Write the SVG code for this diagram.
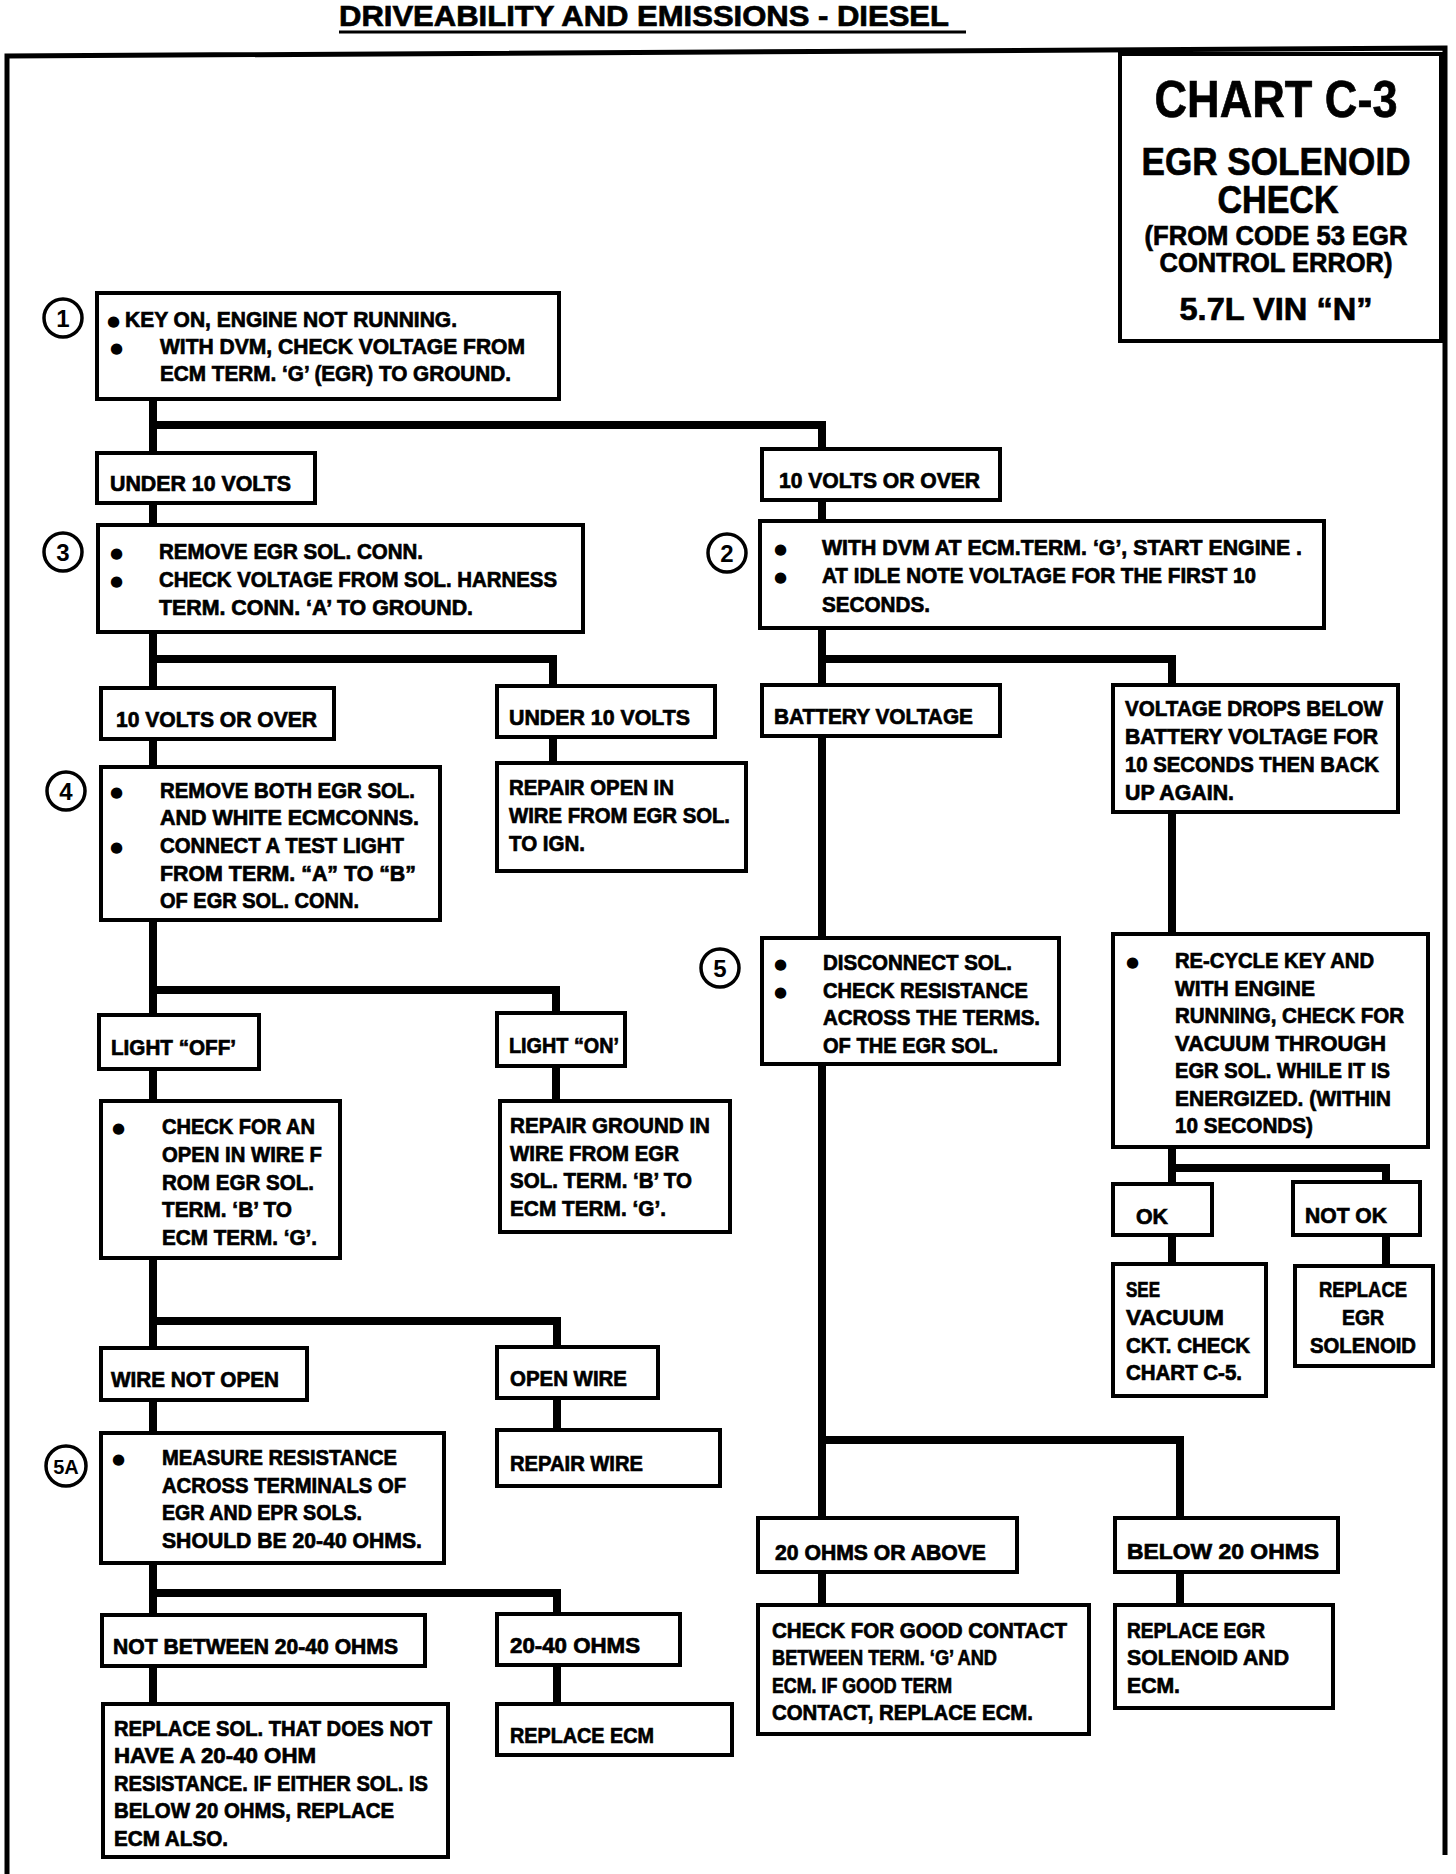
<svg xmlns="http://www.w3.org/2000/svg" width="1456" height="1874" viewBox="0 0 1456 1874">
<style>
.t{font-family:"Liberation Sans Narrow","Liberation Sans",Arial,sans-serif;font-weight:bold;font-size:22px;fill:#000;stroke:#000;stroke-width:0.7}
.box{fill:#fff;stroke:#000;stroke-width:4}
.conn{fill:none;stroke:#000;stroke-width:8;stroke-linejoin:miter}
.circ{fill:#fff;stroke:#000;stroke-width:3.5}
.num{font-family:"Liberation Sans",Arial,sans-serif;font-weight:bold;font-size:24px;text-anchor:middle}
.b{font-family:"DejaVu Sans",sans-serif;font-size:15px}
</style>
<rect width="1456" height="1874" fill="#fff"/>
<text class="t" x="339" y="26" style="font-size:30px" textLength="610" lengthAdjust="spacingAndGlyphs">DRIVEABILITY AND EMISSIONS - DIESEL</text>
<line x1="339" y1="32" x2="966" y2="32" stroke="#000" stroke-width="3"/>
<path d="M7,1874 V56 L1445,48 V1855" fill="none" stroke="#000" stroke-width="5"/>

<g id="connectors">
<path class="conn" d="M153,399 V1704"/>
<path class="conn" d="M153,425 H822 V449"/>
<path class="conn" d="M822,500 V521"/>
<path class="conn" d="M153,659 H553 V686"/>
<path class="conn" d="M553,737 V763"/>
<path class="conn" d="M153,990 H556 V1013"/>
<path class="conn" d="M556,1066 V1101"/>
<path class="conn" d="M153,1321 H557 V1347"/>
<path class="conn" d="M557,1398 V1430"/>
<path class="conn" d="M153,1593 H557 V1614"/>
<path class="conn" d="M557,1665 V1704"/>
<path class="conn" d="M822,628 V1518"/>
<path class="conn" d="M822,659 H1172 V685"/>
<path class="conn" d="M1172,812 V934"/>
<path class="conn" d="M1172,1147 V1264"/>
<path class="conn" d="M1172,1168 H1386 V1182"/>
<path class="conn" d="M1386,1235 V1266"/>
<path class="conn" d="M822,1440 H1180 V1518"/>
<path class="conn" d="M822,1572 V1605"/>
<path class="conn" d="M1180,1572 V1605"/>
</g>

<g id="title-box">
<rect class="box" x="1120" y="54" width="321" height="287"/>
<text class="t" x="1276" y="117" style="font-size:52px" text-anchor="middle" textLength="243" lengthAdjust="spacingAndGlyphs">CHART C-3</text>
<text class="t" x="1276" y="175" style="font-size:38px" text-anchor="middle" textLength="269" lengthAdjust="spacingAndGlyphs">EGR SOLENOID</text>
<text class="t" x="1278" y="213" style="font-size:38px" text-anchor="middle" textLength="121" lengthAdjust="spacingAndGlyphs">CHECK</text>
<text class="t" x="1276" y="245" style="font-size:27px" text-anchor="middle" textLength="263" lengthAdjust="spacingAndGlyphs">(FROM CODE 53 EGR</text>
<text class="t" x="1276" y="272" style="font-size:27px" text-anchor="middle" textLength="233" lengthAdjust="spacingAndGlyphs">CONTROL ERROR)</text>
<text class="t" x="1276" y="320" style="font-size:32px" text-anchor="middle" textLength="193" lengthAdjust="spacingAndGlyphs">5.7L VIN “N”</text>
</g>

<g id="step1">
<circle class="circ" cx="63" cy="318" r="19"/><text class="num" x="63" y="327">1</text>
<rect class="box" x="97" y="293" width="462" height="106"/>
<text class="b" x="107" y="326">●</text>
<text class="t" x="125" y="327" textLength="332" lengthAdjust="spacingAndGlyphs">KEY ON, ENGINE NOT RUNNING.</text>
<text class="b" x="110" y="353">●</text>
<text class="t" x="160" y="354" textLength="365" lengthAdjust="spacingAndGlyphs">WITH DVM, CHECK VOLTAGE FROM</text>
<text class="t" x="160" y="381" textLength="351" lengthAdjust="spacingAndGlyphs">ECM TERM. ‘G’ (EGR) TO GROUND.</text>
</g>

<g id="under10-a">
<rect class="box" x="97" y="453" width="218" height="50"/>
<text class="t" x="110" y="491" textLength="181" lengthAdjust="spacingAndGlyphs">UNDER 10 VOLTS</text>
</g>

<g id="step3">
<circle class="circ" cx="63" cy="552" r="19"/><text class="num" x="63" y="561">3</text>
<rect class="box" x="98" y="525" width="485" height="107"/>
<text class="b" x="110" y="558">●</text>
<text class="t" x="159" y="559" textLength="264" lengthAdjust="spacingAndGlyphs">REMOVE EGR SOL. CONN.</text>
<text class="b" x="110" y="586">●</text>
<text class="t" x="159" y="587" textLength="398" lengthAdjust="spacingAndGlyphs">CHECK VOLTAGE FROM SOL. HARNESS</text>
<text class="t" x="159" y="615" textLength="314" lengthAdjust="spacingAndGlyphs">TERM. CONN. ‘A’ TO GROUND.</text>
</g>

<g id="over10-a">
<rect class="box" x="101" y="688" width="233" height="51"/>
<text class="t" x="116" y="727" textLength="201" lengthAdjust="spacingAndGlyphs">10  VOLTS OR OVER</text>
</g>

<g id="under10-b">
<rect class="box" x="497" y="686" width="218" height="51"/>
<text class="t" x="509" y="725" textLength="181" lengthAdjust="spacingAndGlyphs">UNDER 10 VOLTS</text>
</g>

<g id="repair-open">
<rect class="box" x="497" y="763" width="249" height="108"/>
<text class="t" x="509" y="795" textLength="165" lengthAdjust="spacingAndGlyphs">REPAIR OPEN IN</text>
<text class="t" x="509" y="823" textLength="221" lengthAdjust="spacingAndGlyphs">WIRE FROM EGR SOL.</text>
<text class="t" x="509" y="851" textLength="76" lengthAdjust="spacingAndGlyphs">TO IGN.</text>
</g>

<g id="step4">
<circle class="circ" cx="66" cy="791" r="19"/><text class="num" x="66" y="800">4</text>
<rect class="box" x="101" y="767" width="339" height="153"/>
<text class="b" x="110" y="797">●</text>
<text class="t" x="160" y="798" textLength="255" lengthAdjust="spacingAndGlyphs">REMOVE BOTH EGR SOL.</text>
<text class="t" x="160" y="825" textLength="259" lengthAdjust="spacingAndGlyphs">AND  WHITE ECMCONNS.</text>
<text class="b" x="110" y="852">●</text>
<text class="t" x="160" y="853" textLength="244" lengthAdjust="spacingAndGlyphs">CONNECT A TEST LIGHT</text>
<text class="t" x="160" y="881" textLength="256" lengthAdjust="spacingAndGlyphs">FROM TERM. “A” TO “B”</text>
<text class="t" x="160" y="908" textLength="199" lengthAdjust="spacingAndGlyphs">OF EGR SOL. CONN.</text>
</g>

<g id="light-off">
<rect class="box" x="99" y="1015" width="160" height="54"/>
<text class="t" x="111" y="1055" textLength="125" lengthAdjust="spacingAndGlyphs">LIGHT “OFF’</text>
</g>

<g id="light-on">
<rect class="box" x="497" y="1013" width="128" height="53"/>
<text class="t" x="509" y="1053" textLength="110" lengthAdjust="spacingAndGlyphs">LIGHT “ON’</text>
</g>

<g id="check-open">
<rect class="box" x="101" y="1101" width="239" height="157"/>
<text class="b" x="112" y="1133">●</text>
<text class="t" x="162" y="1134" textLength="153" lengthAdjust="spacingAndGlyphs">CHECK FOR AN</text>
<text class="t" x="162" y="1162" textLength="160" lengthAdjust="spacingAndGlyphs">OPEN IN WIRE F</text>
<text class="t" x="162" y="1190" textLength="152" lengthAdjust="spacingAndGlyphs">ROM EGR SOL.</text>
<text class="t" x="162" y="1217" textLength="130" lengthAdjust="spacingAndGlyphs">TERM. ‘B’ TO</text>
<text class="t" x="162" y="1245" textLength="155" lengthAdjust="spacingAndGlyphs">ECM TERM. ‘G’.</text>
</g>

<g id="repair-ground">
<rect class="box" x="500" y="1101" width="230" height="131"/>
<text class="t" x="510" y="1133" textLength="200" lengthAdjust="spacingAndGlyphs">REPAIR GROUND IN</text>
<text class="t" x="510" y="1161" textLength="169" lengthAdjust="spacingAndGlyphs">WIRE FROM EGR</text>
<text class="t" x="510" y="1188" textLength="182" lengthAdjust="spacingAndGlyphs">SOL. TERM. ‘B’ TO</text>
<text class="t" x="510" y="1216" textLength="156" lengthAdjust="spacingAndGlyphs">ECM TERM. ‘G’.</text>
</g>

<g id="wire-not-open">
<rect class="box" x="101" y="1348" width="206" height="52"/>
<text class="t" x="111" y="1387" textLength="168" lengthAdjust="spacingAndGlyphs">WIRE NOT OPEN</text>
</g>

<g id="open-wire">
<rect class="box" x="497" y="1347" width="161" height="51"/>
<text class="t" x="510" y="1386" textLength="117" lengthAdjust="spacingAndGlyphs">OPEN WIRE</text>
</g>

<g id="repair-wire">
<rect class="box" x="497" y="1430" width="223" height="56"/>
<text class="t" x="510" y="1471" textLength="133" lengthAdjust="spacingAndGlyphs">REPAIR WIRE</text>
</g>

<g id="step5a">
<circle class="circ" cx="66" cy="1466" r="20"/><text class="num" x="66" y="1474" style="font-size:20px">5A</text>
<rect class="box" x="101" y="1433" width="343" height="130"/>
<text class="b" x="112" y="1464">●</text>
<text class="t" x="162" y="1465" textLength="235" lengthAdjust="spacingAndGlyphs">MEASURE RESISTANCE</text>
<text class="t" x="162" y="1493" textLength="244" lengthAdjust="spacingAndGlyphs">ACROSS TERMINALS OF</text>
<text class="t" x="162" y="1520" textLength="200" lengthAdjust="spacingAndGlyphs">EGR AND EPR SOLS.</text>
<text class="t" x="162" y="1548" textLength="260" lengthAdjust="spacingAndGlyphs">SHOULD BE 20-40 OHMS.</text>
</g>

<g id="not-between">
<rect class="box" x="102" y="1615" width="323" height="51"/>
<text class="t" x="113" y="1654" textLength="285" lengthAdjust="spacingAndGlyphs">NOT BETWEEN 20-40 OHMS</text>
</g>

<g id="ohms-20-40">
<rect class="box" x="497" y="1614" width="183" height="51"/>
<text class="t" x="510" y="1653" textLength="130" lengthAdjust="spacingAndGlyphs">20-40 OHMS</text>
</g>

<g id="replace-ecm">
<rect class="box" x="497" y="1704" width="235" height="51"/>
<text class="t" x="510" y="1743" textLength="144" lengthAdjust="spacingAndGlyphs">REPLACE ECM</text>
</g>

<g id="replace-sol">
<rect class="box" x="103" y="1704" width="345" height="153"/>
<text class="t" x="114" y="1736" textLength="318" lengthAdjust="spacingAndGlyphs">REPLACE SOL. THAT DOES NOT</text>
<text class="t" x="114" y="1763" textLength="202" lengthAdjust="spacingAndGlyphs">HAVE A 20-40 OHM</text>
<text class="t" x="114" y="1791" textLength="314" lengthAdjust="spacingAndGlyphs">RESISTANCE.  IF EITHER SOL. IS</text>
<text class="t" x="114" y="1818" textLength="280" lengthAdjust="spacingAndGlyphs">BELOW 20 OHMS, REPLACE</text>
<text class="t" x="114" y="1846" textLength="114" lengthAdjust="spacingAndGlyphs">ECM ALSO.</text>
</g>

<g id="over10-b">
<rect class="box" x="762" y="449" width="238" height="51"/>
<text class="t" x="779" y="488" textLength="201" lengthAdjust="spacingAndGlyphs">10  VOLTS OR OVER</text>
</g>

<g id="step2">
<circle class="circ" cx="727" cy="553" r="19"/><text class="num" x="727" y="562">2</text>
<rect class="box" x="760" y="521" width="564" height="107"/>
<text class="b" x="774" y="554">●</text>
<text class="t" x="822" y="555" textLength="480" lengthAdjust="spacingAndGlyphs">WITH DVM AT ECM.TERM. ‘G’, START ENGINE .</text>
<text class="b" x="774" y="582">●</text>
<text class="t" x="822" y="583" textLength="434" lengthAdjust="spacingAndGlyphs">AT IDLE NOTE VOLTAGE FOR THE FIRST 10</text>
<text class="t" x="822" y="612" textLength="108" lengthAdjust="spacingAndGlyphs">SECONDS.</text>
</g>

<g id="battery-voltage">
<rect class="box" x="762" y="685" width="238" height="51"/>
<text class="t" x="774" y="724" textLength="199" lengthAdjust="spacingAndGlyphs">BATTERY VOLTAGE</text>
</g>

<g id="voltage-drops">
<rect class="box" x="1113" y="685" width="285" height="127"/>
<text class="t" x="1125" y="716" textLength="258" lengthAdjust="spacingAndGlyphs">VOLTAGE DROPS BELOW</text>
<text class="t" x="1125" y="744" textLength="253" lengthAdjust="spacingAndGlyphs">BATTERY VOLTAGE FOR</text>
<text class="t" x="1125" y="772" textLength="254" lengthAdjust="spacingAndGlyphs">10 SECONDS THEN BACK</text>
<text class="t" x="1125" y="800" textLength="109" lengthAdjust="spacingAndGlyphs">UP AGAIN.</text>
</g>

<g id="step5">
<circle class="circ" cx="720" cy="968" r="19"/><text class="num" x="720" y="977">5</text>
<rect class="box" x="762" y="938" width="297" height="126"/>
<text class="b" x="774" y="969">●</text>
<text class="t" x="823" y="970" textLength="189" lengthAdjust="spacingAndGlyphs">DISCONNECT SOL.</text>
<text class="b" x="774" y="997">●</text>
<text class="t" x="823" y="998" textLength="205" lengthAdjust="spacingAndGlyphs">CHECK RESISTANCE</text>
<text class="t" x="823" y="1025" textLength="217" lengthAdjust="spacingAndGlyphs">ACROSS THE TERMS.</text>
<text class="t" x="823" y="1053" textLength="175" lengthAdjust="spacingAndGlyphs">OF THE EGR SOL.</text>
</g>

<g id="recycle">
<rect class="box" x="1113" y="934" width="315" height="213"/>
<text class="b" x="1126" y="967">●</text>
<text class="t" x="1175" y="968" textLength="199" lengthAdjust="spacingAndGlyphs">RE-CYCLE KEY AND</text>
<text class="t" x="1175" y="996" textLength="140" lengthAdjust="spacingAndGlyphs">WITH ENGINE</text>
<text class="t" x="1175" y="1023" textLength="229" lengthAdjust="spacingAndGlyphs">RUNNING, CHECK FOR</text>
<text class="t" x="1175" y="1051" textLength="211" lengthAdjust="spacingAndGlyphs">VACUUM THROUGH</text>
<text class="t" x="1175" y="1078" textLength="215" lengthAdjust="spacingAndGlyphs">EGR SOL. WHILE IT IS</text>
<text class="t" x="1175" y="1106" textLength="216" lengthAdjust="spacingAndGlyphs">ENERGIZED. (WITHIN</text>
<text class="t" x="1175" y="1133" textLength="138" lengthAdjust="spacingAndGlyphs">10 SECONDS)</text>
</g>

<g id="ok">
<rect class="box" x="1113" y="1184" width="99" height="51"/>
<text class="t" x="1136" y="1224" textLength="32" lengthAdjust="spacingAndGlyphs">OK</text>
</g>

<g id="not-ok">
<rect class="box" x="1293" y="1182" width="127" height="53"/>
<text class="t" x="1305" y="1223" textLength="82" lengthAdjust="spacingAndGlyphs">NOT OK</text>
</g>

<g id="see-vacuum">
<rect class="box" x="1113" y="1264" width="153" height="132"/>
<text class="t" x="1126" y="1297" textLength="34" lengthAdjust="spacingAndGlyphs">SEE</text>
<text class="t" x="1126" y="1325" textLength="98" lengthAdjust="spacingAndGlyphs">VACUUM</text>
<text class="t" x="1126" y="1353" textLength="124" lengthAdjust="spacingAndGlyphs">CKT. CHECK</text>
<text class="t" x="1126" y="1380" textLength="116" lengthAdjust="spacingAndGlyphs">CHART C-5.</text>
</g>

<g id="replace-egr-sol">
<rect class="box" x="1295" y="1266" width="138" height="100"/>
<text class="t" x="1363" y="1297" text-anchor="middle" textLength="88" lengthAdjust="spacingAndGlyphs">REPLACE</text>
<text class="t" x="1363" y="1325" text-anchor="middle" textLength="42" lengthAdjust="spacingAndGlyphs">EGR</text>
<text class="t" x="1363" y="1353" text-anchor="middle" textLength="106" lengthAdjust="spacingAndGlyphs">SOLENOID</text>
</g>

<g id="ohms-20-above">
<rect class="box" x="758" y="1518" width="259" height="54"/>
<text class="t" x="775" y="1560" textLength="211" lengthAdjust="spacingAndGlyphs">20 OHMS OR ABOVE</text>
</g>

<g id="below-20">
<rect class="box" x="1115" y="1518" width="223" height="54"/>
<text class="t" x="1127" y="1559" textLength="192" lengthAdjust="spacingAndGlyphs">BELOW 20 OHMS</text>
</g>

<g id="check-contact">
<rect class="box" x="758" y="1605" width="331" height="129"/>
<text class="t" x="772" y="1638" textLength="295" lengthAdjust="spacingAndGlyphs">CHECK FOR GOOD CONTACT</text>
<text class="t" x="772" y="1665" textLength="225" lengthAdjust="spacingAndGlyphs">BETWEEN TERM. ‘G’ AND</text>
<text class="t" x="772" y="1693" textLength="180" lengthAdjust="spacingAndGlyphs">ECM.  IF GOOD TERM</text>
<text class="t" x="772" y="1720" textLength="261" lengthAdjust="spacingAndGlyphs">CONTACT, REPLACE ECM.</text>
</g>

<g id="replace-egr-ecm">
<rect class="box" x="1115" y="1605" width="218" height="103"/>
<text class="t" x="1127" y="1638" textLength="138" lengthAdjust="spacingAndGlyphs">REPLACE EGR</text>
<text class="t" x="1127" y="1665" textLength="162" lengthAdjust="spacingAndGlyphs">SOLENOID AND</text>
<text class="t" x="1127" y="1693" textLength="53" lengthAdjust="spacingAndGlyphs">ECM.</text>
</g>
</svg>
